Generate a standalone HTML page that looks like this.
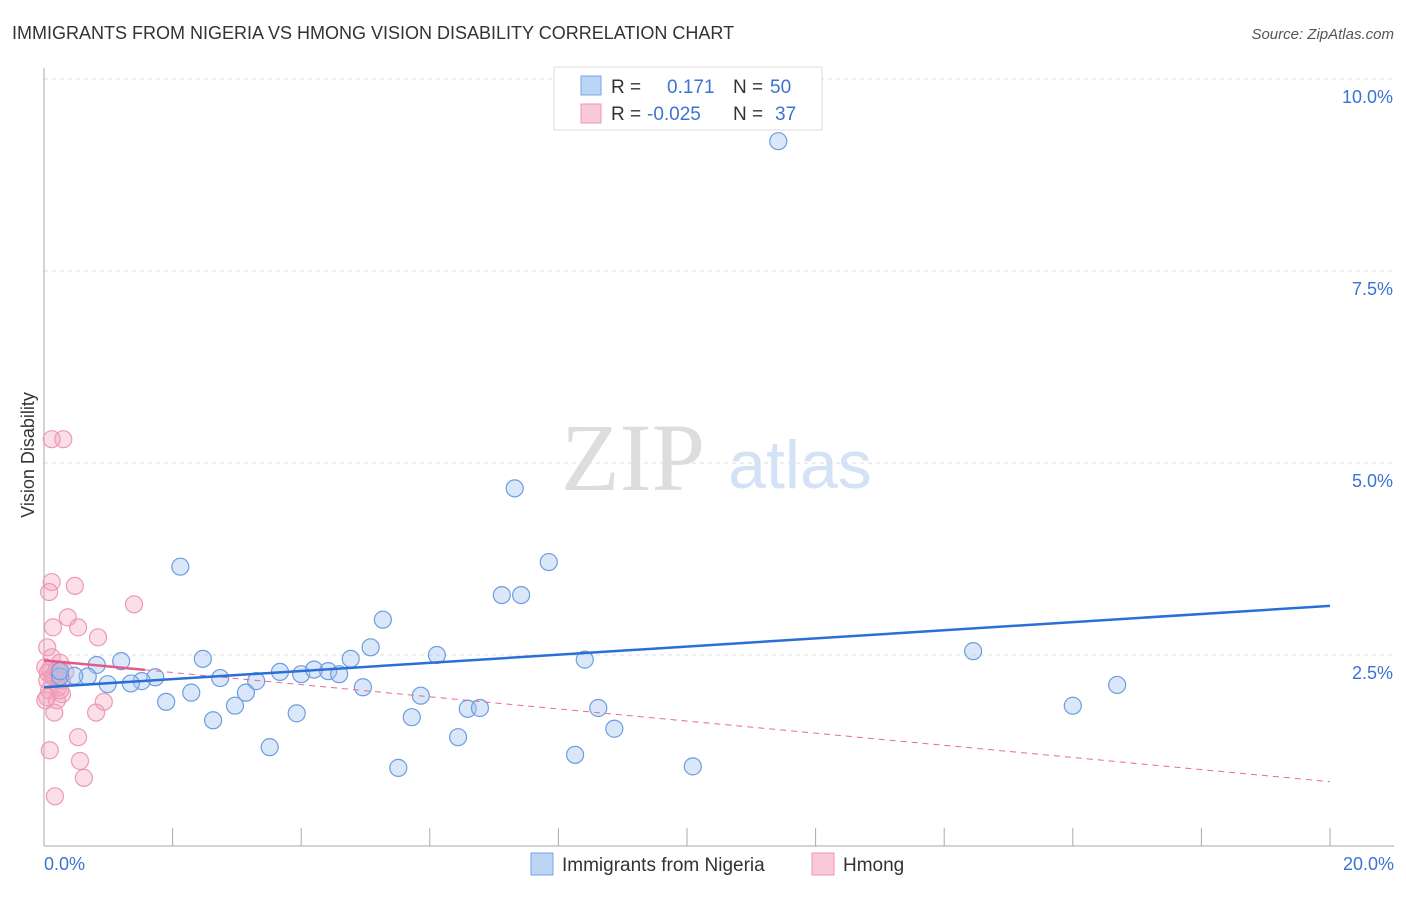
<!DOCTYPE html>
<html><head><meta charset="utf-8"><style>
body{margin:0;background:#fff;font-family:"Liberation Sans",sans-serif;}
</style></head><body>
<svg width="1406" height="892" xmlns="http://www.w3.org/2000/svg" id="svg" font-family="Liberation Sans, sans-serif">
<text x="12" y="39" font-size="18" fill="#333">IMMIGRANTS FROM NIGERIA VS HMONG VISION DISABILITY CORRELATION CHART</text>
<text x="1394" y="39" font-size="15" fill="#555" font-style="italic" text-anchor="end">Source: ZipAtlas.com</text>
<text x="633" y="490" font-size="96" fill="#ddd" text-anchor="middle" font-family="Liberation Serif, serif">ZIP</text>
<text x="800" y="488" font-size="68" fill="#d4e2f5" text-anchor="middle">atlas</text>
<text x="34" y="455" font-size="18" fill="#333" text-anchor="middle" transform="rotate(-90 34 455)">Vision Disability</text>
<g id="grid"></g><g id="axes"></g><g id="marks"></g>
<g>
<rect x="554" y="67" width="268" height="63" fill="#fff" stroke="#ddd"/>
<rect x="581" y="76" width="20" height="19" fill="#bcd4f5" stroke="#7aa6e8"/>
<rect x="581" y="104" width="20" height="19" fill="#f9c9d8" stroke="#ee96b4"/>
<text x="611" y="93" font-size="19" fill="#333">R = </text><text x="667" y="93" font-size="19" fill="#3b73d3">0.171</text>
<text x="733" y="93" font-size="19" fill="#333">N = </text><text x="770" y="93" font-size="19" fill="#3b73d3">50</text>
<text x="611" y="120" font-size="19" fill="#333">R = </text><text x="647" y="120" font-size="19" fill="#3b73d3">-0.025</text>
<text x="733" y="120" font-size="19" fill="#333">N = </text><text x="775" y="120" font-size="19" fill="#3b73d3">37</text>
</g>
<g>
<rect x="531" y="853" width="22" height="22" fill="#bcd4f5" stroke="#7aa6e8"/>
<text x="562" y="871" font-size="19" fill="#333">Immigrants from Nigeria</text>
<rect x="812" y="853" width="22" height="22" fill="#f9c9d8" stroke="#ee96b4"/>
<text x="843" y="871" font-size="19" fill="#333">Hmong</text>
</g>
</svg>
<script>
const yTicks=[2.5,5.0,7.5,10.0];
const yTickLabels=["2.5%","5.0%","7.5%","10.0%"];
const xTickLabels=["0.0%","20.0%"];
const nigeriaX=[11.42,7.32,7.85,2.12,7.12,7.42,5.27,5.08,6.11,8.41,4.77,2.47,1.2,0.82,3.67,4.0,4.2,4.42,4.59,2.74,3.3,1.73,1.52,0.99,1.35,0.68,0.25,0.47,2.29,3.14,4.96,5.86,1.9,2.97,8.62,6.59,6.78,3.93,5.72,2.63,8.87,6.44,3.51,8.26,5.51,10.09,14.45,16.69,16.0,0.25];
const nigeriaY=[9.19,4.67,3.71,3.65,3.28,3.28,2.96,2.6,2.5,2.44,2.45,2.45,2.42,2.37,2.28,2.25,2.31,2.29,2.25,2.2,2.16,2.21,2.16,2.12,2.13,2.22,2.22,2.23,2.01,2.01,2.08,1.97,1.89,1.84,1.81,1.8,1.81,1.74,1.69,1.65,1.54,1.43,1.3,1.2,1.03,1.05,2.55,2.11,1.84,2.29];
const hmongX=[0.12,0.3,0.12,0.48,0.08,1.4,0.37,0.53,0.14,0.84,0.05,0.12,0.25,0.09,0.17,0.05,0.28,0.22,0.08,0.28,0.05,0.2,0.93,0.81,0.16,0.53,0.09,0.56,0.62,0.17,0.02,0.06,0.14,0.2,0.33,0.02,0.25];
const hmongY=[5.31,5.31,3.45,3.4,3.32,3.16,2.99,2.86,2.86,2.73,2.6,2.47,2.4,2.31,2.23,2.17,2.17,2.08,2.04,1.99,1.95,1.91,1.89,1.75,1.75,1.43,1.26,1.12,0.9,0.66,2.34,2.27,2.22,2.31,2.28,1.91,2.04];
const blueTrend=[2.08,3.14];
const pinkTrend=[2.43,0.85];
const pinkSolidEnd=1.57;
const X0=44,X1=1330,Y0=847,PY=76.8;
const sx=v=>X0+(X1-X0)*v/20, sy=v=>Y0-v*PY;
const NS="http://www.w3.org/2000/svg";
function mk(t,a,p){const e=document.createElementNS(NS,t);for(const k in a)e.setAttribute(k,a[k]);p.appendChild(e);return e;}
const grid=document.getElementById('grid'),axes=document.getElementById('axes'),marks=document.getElementById('marks');
yTicks.forEach((v,i)=>{
 const l=mk('line',{x1:X0,x2:1394,y1:sy(v),y2:sy(v),stroke:'#ddd','stroke-dasharray':'4,4'},grid);
 
 
 const t=mk('text',{x:1393,y:sy(v)+24,'font-size':18,fill:'#3b73d3','text-anchor':'end'},axes);t.textContent=yTickLabels[i];
 
 
});
const ax=mk('line',{x1:X0,x2:X0,y1:68,y2:846,stroke:'#aaa'},axes);


const bx=mk('line',{x1:X0,x2:1394,y1:846,y2:846,stroke:'#aaa'},axes);


for(let v=2;v<=20;v+=2){const t=mk('line',{x1:sx(v),x2:sx(v),y1:828,y2:846,stroke:'#aaa'},axes);
 
 }
[[0,'start',44],[20,'end',1394]].forEach((d,i)=>{const t=mk('text',{x:d[2],y:870,'font-size':18,fill:'#3b73d3','text-anchor':d[1]},axes);t.textContent=xTickLabels[i];
 
 });
hmongX.forEach((x,i)=>{const c=mk('circle',{cx:sx(x),cy:sy(hmongY[i]),r:8.5,fill:'rgba(244,160,190,0.35)',stroke:'#ec9ab6','stroke-width':1.2},marks);
 
 });
nigeriaX.forEach((x,i)=>{const c=mk('circle',{cx:sx(x),cy:sy(nigeriaY[i]),r:8.5,fill:'rgba(160,195,240,0.4)',stroke:'#6d9de0','stroke-width':1.2},marks);
 
 });
const pAt=x=>pinkTrend[0]+(pinkTrend[1]-pinkTrend[0])*x/20;
const pd=mk('line',{x1:sx(pinkSolidEnd),y1:sy(pAt(pinkSolidEnd)),x2:sx(20),y2:sy(pinkTrend[1]),stroke:'#e66a93','stroke-width':1,'stroke-dasharray':'6,5'},marks);


const ps=mk('line',{x1:sx(0),y1:sy(pinkTrend[0]),x2:sx(pinkSolidEnd),y2:sy(pAt(pinkSolidEnd)),stroke:'#e35a88','stroke-width':2.5},marks);


const bl=mk('line',{x1:sx(0),y1:sy(blueTrend[0]),x2:sx(20),y2:sy(blueTrend[1]),stroke:'#2a6fd6','stroke-width':2.5},marks);


</script>
</body></html>
